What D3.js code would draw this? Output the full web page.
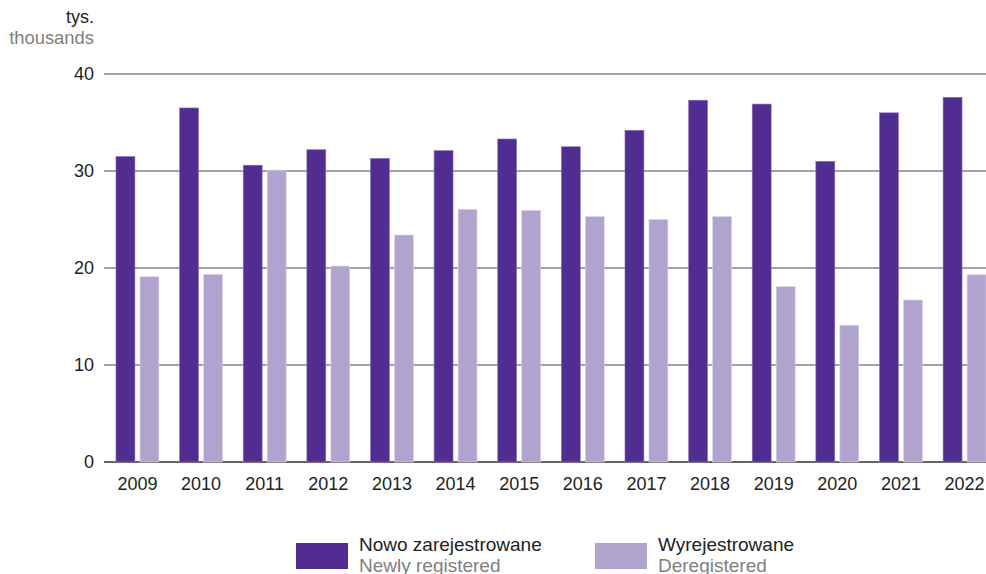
<!DOCTYPE html>
<html>
<head>
<meta charset="utf-8">
<script src="https://cdn.jsdelivr.net/npm/d3@7"></script>
<style>
    body { margin: 0; background: #fff; }
    svg { font-family: "Liberation Sans", Arial, sans-serif; display: block; }
</style>
</head>
<body>
<script>
    // data (thousands)
    var years = ['2009', '2010', '2011', '2012', '2013', '2014', '2015',
                 '2016', '2017', '2018', '2019', '2020', '2021', '2022'];
    var registered = [31.5, 36.5, 30.6, 32.2, 31.3, 32.1, 33.3, 32.5, 34.2, 37.3, 36.9, 31.0, 36.0, 37.6];
    var deregistered = [19.1, 19.35, 30.1, 20.2, 23.4, 26.05, 25.95, 25.3, 25.0, 25.3, 18.1, 14.1, 16.7, 19.3];
    var yTicks = [0, 10, 20, 30, 40];
    var seriesKeys = ['registered', 'deregistered'];
    var seriesPl = ['Nowo zarejestrowane', 'Wyrejestrowane'];
    var seriesEn = ['Newly registered', 'Deregistered'];

    var w = 986, h = 574;
    var colors = {registered: '#512d91', deregistered: '#b0a4cf'};

    var svg = d3.select('body').append('svg')
            .attr('width', w)
            .attr('height', h);

    // band step ~63.6px, bars 19px wide with 5px between them
    var x = d3.scaleBand()
            .domain(years)
            .range([104, 998])
            .paddingInner(0.325)
            .paddingOuter(0.188);

    var xs = d3.scaleBand()
            .domain(seriesKeys)
            .range([0, x.bandwidth()])
            .paddingInner(0.21);

    var y = d3.scaleLinear()
            .domain([0, 40])
            .range([462, 74]);

    // GRID
    svg.append('g')
            .selectAll('line')
            .data(yTicks)
            .join('line')
            .attr('x1', 104)
            .attr('x2', w)
            .attr('y1', function (d) { return y(d); })
            .attr('y2', function (d) { return y(d); })
            .attr('stroke', function (d) { return d === 0 ? '#333' : '#858585'; })
            .attr('stroke-width', 1.3);

    // Y LABELS
    svg.append('g')
            .selectAll('text')
            .data(yTicks)
            .join('text')
            .attr('x', 94)
            .attr('y', function (d) { return y(d); })
            .attr('dy', '0.36em')
            .attr('text-anchor', 'end')
            .attr('font-size', 18)
            .attr('fill', '#222')
            .text(function (d) { return d; });

    svg.append('text')
            .attr('x', 94).attr('y', 23)
            .attr('text-anchor', 'end')
            .attr('font-size', 18)
            .attr('fill', '#222')
            .text('tys.');
    svg.append('text')
            .attr('x', 94).attr('y', 44)
            .attr('text-anchor', 'end')
            .attr('font-size', 18.4)
            .attr('fill', '#808080')
            .text('thousands');

    // BARS
    var rows = years.map(function (yr, i) {
        return {year: yr, registered: registered[i], deregistered: deregistered[i]};
    });

    var groups = svg.append('g')
            .selectAll('g')
            .data(rows)
            .join('g')
            .attr('transform', function (d) { return 'translate(' + x(d.year) + ',0)'; });

    groups.selectAll('rect')
            .data(function (d) {
                return seriesKeys.map(function (k) { return {key: k, value: d[k]}; });
            })
            .join('rect')
            .attr('x', function (d) { return xs(d.key); })
            .attr('y', function (d) { return y(d.value); })
            .attr('width', xs.bandwidth())
            .attr('height', function (d) { return y(0) - y(d.value); })
            .attr('fill', function (d) { return colors[d.key]; })
            .attr('stroke', function (d) { return d.key === 'registered' ? '#8c78c0' : '#dcd6ec'; })
            .attr('stroke-width', 0.6);

    // X LABELS
    svg.append('g')
            .selectAll('text')
            .data(years)
            .join('text')
            .attr('x', function (d) { return x(d) + x.bandwidth() / 2; })
            .attr('y', 490)
            .attr('text-anchor', 'middle')
            .attr('font-size', 18)
            .attr('fill', '#222')
            .text(function (d) { return d; });

    // LEGEND
    var legendX = [296, 595];
    var legend = svg.append('g')
            .selectAll('g')
            .data(seriesKeys)
            .join('g')
            .attr('transform', function (d, i) { return 'translate(' + legendX[i] + ',0)'; });

    legend.append('rect')
            .attr('x', 0).attr('y', 543)
            .attr('width', 52).attr('height', 26)
            .attr('fill', function (d) { return colors[d]; });
    legend.append('text')
            .attr('x', 63).attr('y', 551)
            .attr('font-size', 19)
            .attr('fill', '#222')
            .text(function (d, i) { return seriesPl[i]; });
    legend.append('text')
            .attr('x', 63).attr('y', 572)
            .attr('font-size', 19)
            .attr('fill', '#808080')
            .text(function (d, i) { return seriesEn[i]; });
</script>
</body>
</html>
